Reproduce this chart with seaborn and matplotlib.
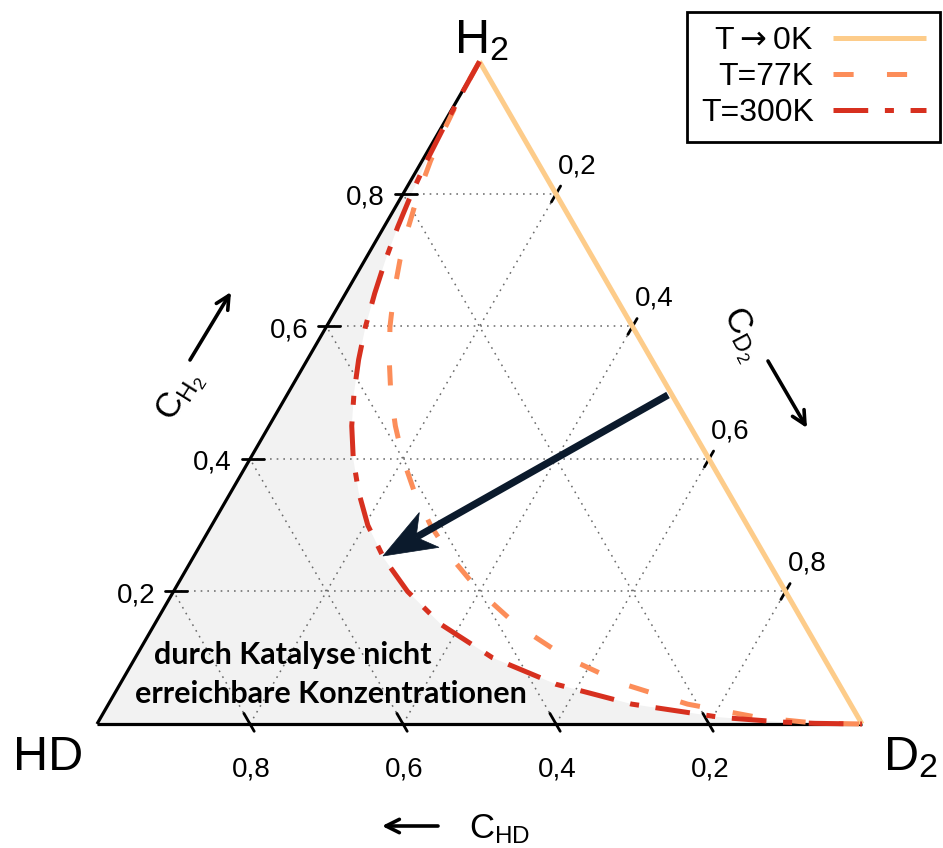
import numpy as np
import pandas as pd
import matplotlib
matplotlib.use("Agg")
import matplotlib.pyplot as plt
import seaborn as sns
from matplotlib.patches import Polygon

# ---------------- data (mole fractions) ----------------
h2_levels = [1.0, 0.95, 0.9, 0.85, 0.8, 0.75, 0.7, 0.65, 0.6, 0.55, 0.5, 0.45,
             0.4, 0.35, 0.3, 0.25, 0.2, 0.15, 0.1, 0.06, 0.03, 0.01, 0.003, 0.001, 0.0]
hd_77K = [0.0, 0.049, 0.095, 0.139, 0.180, 0.218, 0.254, 0.287, 0.317, 0.343, 0.366, 0.385,
          0.400, 0.410, 0.414, 0.411, 0.400, 0.377, 0.336, 0.281, 0.213, 0.131, 0.074, 0.044, 0.0]
hd_300K = [0.0, 0.049, 0.097, 0.144, 0.189, 0.232, 0.273, 0.312, 0.349, 0.383, 0.414, 0.442,
           0.465, 0.483, 0.496, 0.500, 0.494, 0.475, 0.433, 0.370, 0.286, 0.180, 0.104, 0.061, 0.0]
h2_0K = [1.0, 0.0]
hd_0K = [0.0, 0.0]

series_labels = [r"T$\rightarrow$0K", "T=77K", "T=300K"]
series_colors = ["#fdcc8a", "#fc8d59", "#d7301f"]
tick_values = [0.2, 0.4, 0.6, 0.8]
tick_labels = ["0,2", "0,4", "0,6", "0,8"]
vertex_labels = ["H$_2$", "HD", "D$_2$"]
note_lines = ["durch Katalyse nicht", "erreichbare Konzentrationen"]

# ---------------- style ----------------
sns.set_style("white")
plt.rcParams["font.family"] = ["Liberation Sans", "DejaVu Sans"]
plt.rcParams["text.color"] = "black"
plt.rcParams["mathtext.fontset"] = "custom"
plt.rcParams["mathtext.rm"] = "Liberation Sans"
plt.rcParams["mathtext.it"] = "Liberation Sans:italic"
plt.rcParams["mathtext.sf"] = "Liberation Sans"
plt.rcParams["lines.scale_dashes"] = False

S3 = np.sqrt(3) / 2


def to_xy(h2, hd):
    h2 = np.asarray(h2, float)
    hd = np.asarray(hd, float)
    d2 = 1 - h2 - hd
    return d2 + 0.5 * h2, h2 * S3


def px(x, y):
    return (x - 97) / 765.0, (724 - y) / 765.0


fig = plt.figure(figsize=(9.43, 8.48), dpi=100)
ax = fig.add_axes([0, 0, 1, 1])

# grey region (not reachable by catalysis)
fx, fy = to_xy(h2_levels, hd_300K)
poly = np.column_stack([np.r_[fx, 0.0], np.r_[fy, 0.0]])
ax.add_patch(Polygon(poly, closed=True, facecolor="#f2f2f2", edgecolor="none", zorder=0))

# dotted grid
grid_kw = dict(color="#6a6a6a", lw=1.1, dashes=(1.2, 3.6), zorder=1)
for v in tick_values:
    x0, y0 = to_xy(v, 1 - v)
    x1, y1 = to_xy(v, 0)
    ax.plot([x0, x1], [y0, y1], **grid_kw)
    x0, y0 = to_xy(0, v)
    x1, y1 = to_xy(1 - v, v)
    ax.plot([x0, x1], [y0, y1], **grid_kw)
    x0, y0 = to_xy(0, 1 - v)
    x1, y1 = to_xy(1 - v, 0)
    ax.plot([x0, x1], [y0, y1], **grid_kw)

# black edges (left and bottom)
ax.plot([0, 0.5], [0, S3], color="black", lw=2.3, zorder=2, solid_capstyle="butt")
ax.plot([0, 1], [0, 0], color="black", lw=2.3, zorder=2, solid_capstyle="butt")

# ticks
tk = dict(color="black", lw=2.0, zorder=3)
for v in tick_values:
    ex, ey = to_xy(v, 1 - v)
    ax.plot([ex - 0.011, ex + 0.018], [ey, ey], **tk)
    ex, ey = to_xy(1 - v, 0)
    d = np.array([0.5, S3])
    ax.plot([ex - 0.012 * d[0], ex + 0.012 * d[0]], [ey - 0.012 * d[1], ey + 0.012 * d[1]], **tk)
    ex, ey = to_xy(0, v)
    d = np.array([-0.5, S3])
    ax.plot([ex - 0.011 * d[0], ex + 0.016 * d[0]], [ey - 0.011 * d[1], ey + 0.016 * d[1]], **tk)

# tick labels
tfs = 20
for v, lab in zip(tick_values, tick_labels):
    ex, ey = to_xy(v, 1 - v)
    ax.text(ex - 0.024, ey - 0.014, lab, ha="right", va="baseline", fontsize=tfs)
    ex, ey = to_xy(1 - v, 0)
    ax.text(ex + 0.028, ey + 0.027, lab, ha="center", va="baseline", fontsize=tfs)
    ex, ey = to_xy(0, v)
    ax.text(ex + 0.002, ey - 0.068, lab, ha="center", va="baseline", fontsize=tfs)

# curves via seaborn
curves = [(h2_0K, hd_0K), (h2_levels, hd_77K), (h2_levels, hd_300K)]
dash_styles = [None, (14.5, 24), (25, 12, 6.5, 12)]
lines = []
for (h2, hd), lab, col, ds in zip(curves, series_labels, series_colors, dash_styles):
    cx, cy = to_xy(h2, hd)
    df = pd.DataFrame({"x": cx, "y": cy})
    sns.lineplot(data=df, x="x", y="y", sort=False, estimator=None, color=col,
                 linewidth=3.6, ax=ax, label=lab, zorder=4)
    ln = ax.lines[-1]
    if ds is not None:
        ln.set_dashes(ds)
    ln.set_solid_capstyle("butt")
    lines.append(ln)

ax.set_xlim(-97 / 765, (943 - 97) / 765)
ax.set_ylim(-(848 - 724) / 765, 724 / 765)
ax.axis("off")

# vertex labels
ax.text(*px(481, 53), vertex_labels[0], ha="center", va="baseline", fontsize=35)
ax.text(*px(48, 770), vertex_labels[1], ha="center", va="baseline", fontsize=35)
ax.text(*px(910, 770), vertex_labels[2], ha="center", va="baseline", fontsize=35)

# axis titles with arrows
arw = dict(arrowstyle="->", lw=2.6, color="black", mutation_scale=24, shrinkA=0, shrinkB=0)
ax.annotate("", xy=px(231, 292), xytext=px(190, 360), arrowprops=arw)
ax.text(*px(180, 396), r"$\mathrm{C_{H_2}}$", rotation=58, ha="center", va="center", fontsize=25)
ax.annotate("", xy=px(807, 428), xytext=px(768, 361), arrowprops=arw)
ax.text(*px(741, 334), r"$\mathrm{C_{D_2}}$", rotation=-62, ha="center", va="center", fontsize=25)
ax.annotate("", xy=px(382, 826), xytext=px(438, 826), arrowprops=arw)
ax.text(*px(469, 838), r"$\mathrm{C_{HD}}$", ha="left", va="baseline", fontsize=25)

# annotation text
note_kw = dict(ha="center", va="baseline", fontsize=22, fontweight="bold",
               family=["Lato", "DejaVu Sans"], color="black")
ax.text(*px(293, 664), note_lines[0], **note_kw)
ax.text(*px(331, 703), note_lines[1], **note_kw)

# big navy arrow
tip = np.array([383.0, 556.0])
start = np.array([668.0, 395.0])
u = (start - tip) / np.linalg.norm(start - tip)
n = np.array([-u[1], u[0]])
notch = tip + 38 * u
b1 = tip + 53 * u + 20 * n
b2 = tip + 53 * u - 20 * n
navy = "#0b1a2c"
ax.plot([px(*start)[0], px(*notch)[0]], [px(*start)[1], px(*notch)[1]], color=navy,
        lw=5.2, solid_capstyle="butt", zorder=6)
head = [px(*tip), px(*b1), px(*notch), px(*b2)]
ax.add_patch(Polygon(head, closed=True, facecolor=navy, edgecolor=navy, lw=0.5, zorder=6))

# legend
leg = ax.legend(handles=lines, labels=series_labels, loc="upper right",
                bbox_to_anchor=(940 / 943, 1 - 12 / 848), bbox_transform=fig.transFigure,
                markerfirst=False, fontsize=23, handlelength=2.9, handletextpad=0.6,
                labelspacing=0.18, borderpad=0.45, borderaxespad=0, frameon=True,
                fancybox=False, framealpha=1, labelcolor="black")
leg.get_frame().set_edgecolor("black")
leg.get_frame().set_linewidth(2)
leg.get_texts()[0].set_math_fontfamily("dejavusans")

fig.savefig("out.png", dpi=100)
